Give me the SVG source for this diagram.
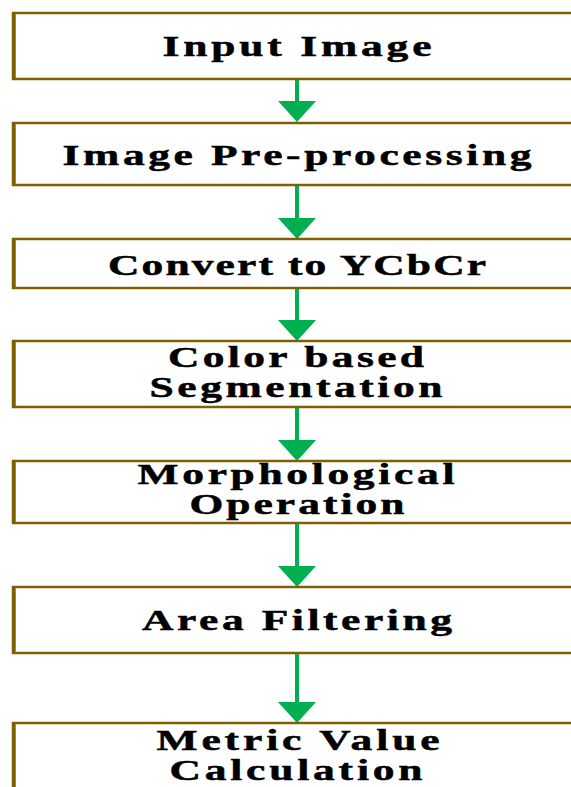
<svg xmlns="http://www.w3.org/2000/svg" width="571" height="787" viewBox="0 0 571 787">
<style>
.box{fill:#ffffff;stroke:#7f6000;stroke-width:2.5}
.edge{stroke:#7f6000;stroke-width:3.5}
.lbl{font-family:"Liberation Serif","Times New Roman",serif;font-weight:bold;font-size:30px;fill:#000000;stroke:#000000;stroke-width:0.5;text-anchor:middle}
.shaft{stroke:#00b050;stroke-width:4;fill:none}
.head{fill:#00b050}
</style>
<rect width="571" height="787" fill="#ffffff"/>
<g id="connectors">
<line class="shaft" x1="297" y1="79" x2="297" y2="103"/><polygon class="head" points="278,101 316,101 297,122"/>
<line class="shaft" x1="297" y1="185" x2="297" y2="220"/><polygon class="head" points="278,218 316,218 297,239"/>
<line class="shaft" x1="297" y1="288" x2="297" y2="322"/><polygon class="head" points="278,320 316,320 297,341"/>
<line class="shaft" x1="297" y1="407" x2="297" y2="442"/><polygon class="head" points="278,440 316,440 297,461"/>
<line class="shaft" x1="297" y1="523" x2="297" y2="568"/><polygon class="head" points="278,566 316,566 297,587"/>
<line class="shaft" x1="297" y1="653" x2="297" y2="704"/><polygon class="head" points="278,702 316,702 297,723"/>
</g>
<g id="n1"><rect class="box" x="13" y="13" width="600" height="66"/><line class="edge" x1="14" y1="12" x2="14" y2="80"/>
<text class="lbl" transform="translate(297,56) scale(1.45,1)" textLength="185.5" lengthAdjust="spacing">Input Image</text></g>
<g id="n2"><rect class="box" x="13" y="123" width="600" height="62"/><line class="edge" x1="14" y1="122" x2="14" y2="186"/>
<text class="lbl" transform="translate(297,165) scale(1.45,1)" textLength="323.4" lengthAdjust="spacing">Image Pre-processing</text></g>
<g id="n3"><rect class="box" x="13" y="239" width="600" height="49"/><line class="edge" x1="14" y1="238" x2="14" y2="289"/>
<text class="lbl" transform="translate(297,275) scale(1.45,1)" textLength="260.7" lengthAdjust="spacing">Convert to YCbCr</text></g>
<g id="n4"><rect class="box" x="13" y="341" width="600" height="66"/><line class="edge" x1="14" y1="340" x2="14" y2="408"/>
<text class="lbl" transform="translate(296,367) scale(1.45,1)" textLength="176.6" lengthAdjust="spacing">Color based</text>
<text class="lbl" transform="translate(296,397) scale(1.45,1)" textLength="202" lengthAdjust="spacing">Segmentation</text></g>
<g id="n5"><rect class="box" x="13" y="461" width="600" height="62"/><line class="edge" x1="14" y1="460" x2="14" y2="524"/>
<text class="lbl" transform="translate(296,484) scale(1.45,1)" textLength="218.6" lengthAdjust="spacing">Morphological</text>
<text class="lbl" transform="translate(297,514) scale(1.45,1)" textLength="148.3" lengthAdjust="spacing">Operation</text></g>
<g id="n6"><rect class="box" x="13" y="587" width="600" height="66"/><line class="edge" x1="14" y1="586" x2="14" y2="654"/>
<text class="lbl" transform="translate(297,630) scale(1.45,1)" textLength="213.8" lengthAdjust="spacing">Area Filtering</text></g>
<g id="n7"><rect class="box" x="13" y="723" width="600" height="100"/><line class="edge" x1="14" y1="722" x2="14" y2="800"/>
<text class="lbl" transform="translate(298,750) scale(1.45,1)" textLength="195.2" lengthAdjust="spacing">Metric Value</text>
<text class="lbl" transform="translate(296,780) scale(1.45,1)" textLength="174.5" lengthAdjust="spacing">Calculation</text></g>
</svg>
